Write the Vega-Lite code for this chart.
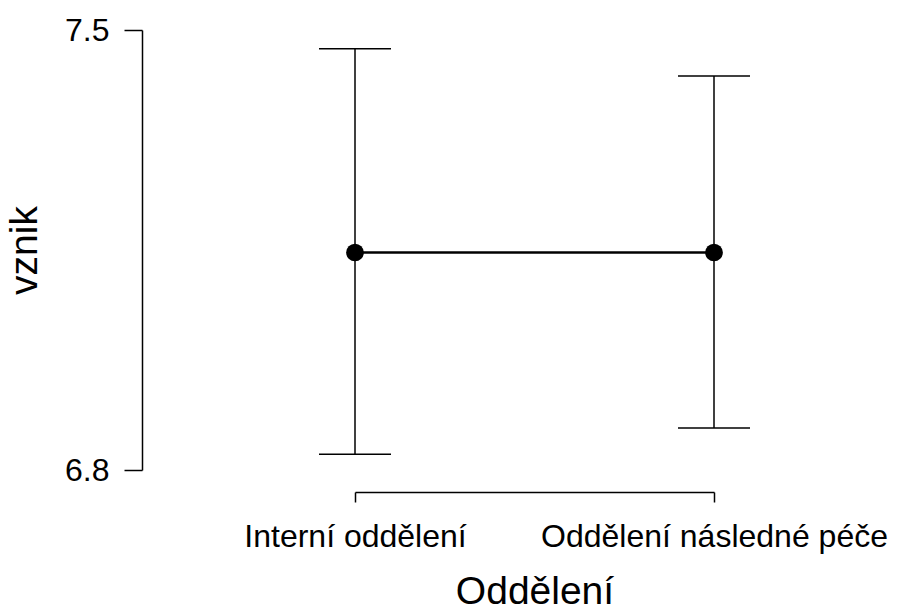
{
  "$schema": "https://vega.github.io/schema/vega-lite/v6.json",
  "width": 359,
  "height": 440,
  "autosize": "none",
  "padding": {"left": 355, "top": 30, "right": 183, "bottom": 142},
  "background": "white",
  "config": {"view": {"stroke": null}, "font": "Liberation Sans"},
  "data": {
    "values": [
      {"dept": "Interní oddělení", "mean": 7.146, "lower": 6.825, "upper": 7.470},
      {"dept": "Oddělení následné péče", "mean": 7.146, "lower": 6.867, "upper": 7.427}
    ]
  },
  "encoding": {
    "x": {
      "field": "dept",
      "type": "nominal",
      "sort": ["Interní oddělení", "Oddělení následné péče"],
      "scale": {"type": "point", "padding": 0},
      "axis": {
        "title": "Oddělení",
        "grid": false,
        "offset": 22,
        "domainColor": "black",
        "domainWidth": 1.5,
        "tickColor": "black",
        "tickWidth": 1.5,
        "tickSize": 10,
        "labelAngle": 0,
        "labelFontSize": 32,
        "labelColor": "black",
        "labelPadding": 19,
        "labelLimit": 0,
        "labelFont": "Liberation Sans",
        "titleFont": "Liberation Sans",
        "titleFontSize": 39,
        "titleFontWeight": "normal",
        "titleColor": "black",
        "titlePadding": 20
      }
    }
  },
  "layer": [
    {
      "mark": {"type": "rule", "color": "black", "strokeWidth": 1.5},
      "encoding": {
        "y": {
          "field": "lower",
          "type": "quantitative",
          "scale": {"domain": [6.8, 7.5], "nice": false, "zero": false},
          "axis": {
            "title": "vznik",
            "values": [6.8, 7.5],
            "format": ".1f",
            "grid": false,
            "offset": 213,
            "domainColor": "black",
            "domainWidth": 1.5,
            "tickColor": "black",
            "tickWidth": 1.5,
            "tickSize": 18,
            "labelFontSize": 32,
            "labelColor": "black",
            "labelPadding": 15,
            "labelFont": "Liberation Sans",
            "titleFont": "Liberation Sans",
            "titleFontSize": 39,
            "titleFontWeight": "normal",
            "titleColor": "black",
            "titlePadding": 20
          }
        },
        "y2": {"field": "upper"}
      }
    },
    {
      "mark": {"type": "tick", "color": "black", "size": 72, "thickness": 1.5, "opacity": 1},
      "encoding": {"y": {"field": "lower", "type": "quantitative"}}
    },
    {
      "mark": {"type": "tick", "color": "black", "size": 72, "thickness": 1.5, "opacity": 1},
      "encoding": {"y": {"field": "upper", "type": "quantitative"}}
    },
    {
      "mark": {"type": "line", "color": "black", "strokeWidth": 2.5},
      "encoding": {"y": {"field": "mean", "type": "quantitative"}}
    },
    {
      "mark": {"type": "point", "filled": true, "color": "black", "opacity": 1, "size": 314},
      "encoding": {"y": {"field": "mean", "type": "quantitative"}}
    }
  ]
}
